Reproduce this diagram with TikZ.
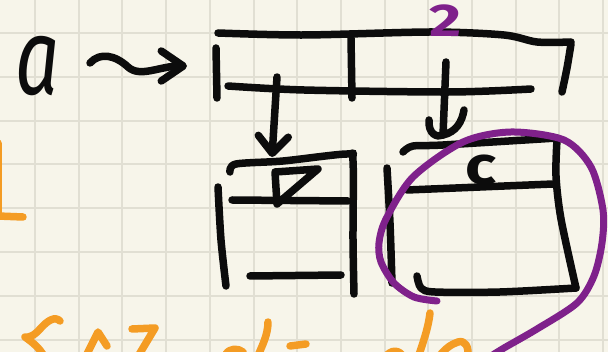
\documentclass[tikz,border=0pt]{standalone}
\usepackage{fontspec}
\usetikzlibrary{arrows.meta}
\newfontfamily\handfont{Fira Sans}
\definecolor{paper}{HTML}{F7F5EA}
\definecolor{gridgray}{HTML}{E1DFD3}
\definecolor{inkblack}{HTML}{0C0C0C}
\definecolor{markpurple}{HTML}{7F218B}
\definecolor{markorange}{HTML}{F49C24}

\begin{document}
\begin{tikzpicture}[x=1pt,y=-1pt,
    gridline/.style={draw=gridgray,line width=2pt},
    ink/.style={draw=inkblack,line width=7.5pt,line cap=round,line join=round},
    hilite/.style={draw=markpurple,line width=7pt,line cap=round},
    scrawl/.style={draw=markorange,line width=7.5pt,line cap=round,line join=round},
    barb/.style={-{Straight Barb[length=#1,width=30pt,round]}}]
    % paper and squares
    \useasboundingbox (0,0) rectangle (608,352);
    \clip (0,0) rectangle (608,352);
    \fill[paper] (0,0) rectangle (608,352);
    \foreach \i in {-1,...,13}
        \draw[gridline] ({35+43.7*\i},0) -- ({35+43.7*\i},352);
    \foreach \j in {-1,...,7}
        \draw[gridline] (0,{33+43.8*\j}) -- (608,{33+43.8*\j});

    % the variable and its pointer
    \node[font=\handfont\itshape\fontsize{108}{108}\selectfont,text=inkblack,
          xscale=0.72,inner sep=0] (aval) at (38,66) {a};
    \coordinate (wavein) at (90,63);
    \coordinate (waveout) at (187,66);
    \draw[ink,barb=22pt] (wavein) .. controls (100,52) and (115,55) .. (128,67)
        .. controls (140,78) and (160,66) .. (waveout);

    % array of two slots
    \draw[ink] plot[smooth] coordinates {(218,33) (304,35) (431,32) (504,35) (537,42) (571,42)};
    \draw[ink] plot[smooth] coordinates {(571,44) (567,68) (562,92)};
    \draw[ink] (216,48) -- (217,98);
    \draw[ink] plot[smooth] coordinates {(228,86) (304,90) (450,92) (531,89)};
    \draw[ink] (351,38) -- (352,98);
    \node[font=\handfont\bfseries\fontsize{46}{46}\selectfont,text=markpurple,
          xscale=1.35,inner sep=0] (size) at (446,21) {2};

    % first cell
    \draw[ink] plot[smooth] coordinates {(230,172) (236,164) (283,161) (347,154) (353,161) (353,240) (354,294)};
    \draw[ink] plot[smooth] coordinates {(218,187) (221,240) (226,286)};
    \draw[ink] (232,200) -- (348,201);
    \draw[ink] (250,276) -- (341,275);
    \draw[ink] (275,172) -- (318,169) -- (277,204) -- cycle;

    % second cell
    \draw[ink] plot[smooth] coordinates {(403,152) (413,146) (443,145) (557,138)};
    \draw[ink] plot[smooth] coordinates {(557,140) (556,176) (561,219) (576,288)};
    \draw[ink] plot[smooth] coordinates {(387,168) (390,223) (392,283)};
    \draw[ink] (407,190) -- (553,184);
    \draw[ink] plot[smooth] coordinates {(417,276) (421,288) (435,292) (500,292) (576,288)};
    \node[font=\handfont\bfseries\fontsize{54}{54}\selectfont,text=inkblack,
          xscale=1.2,inner sep=0] (cval) at (481,170) {c};

    % pointers down into the cells
    \coordinate (ptrA) at (277,77);
    \coordinate (tipA) at (272,157);
    \coordinate (ptrB) at (446,62);
    \coordinate (tipB) at (443,135);
    \draw[ink,barb=17pt] (ptrA) -- (tipA);
    \draw[ink] (ptrB) -- (tipB);
    \draw[ink] (429,120) .. controls (428,134) and (437,138) .. (tipB)
        .. controls (456,132) and (462,122) .. (464,110);

    % ring round the second cell
    \draw[hilite] plot[smooth] coordinates {(437,301) (414,297) (394,283) (381,262) (379,243)
        (386,219) (413,177) (463,142) (511,132) (564,140) (591,167) (603,210) (602,243)
        (594,276) (577,303) (537,329) (504,348) (488,358)};

    % orange notes along the edges
    \draw[scrawl] (-2,143) -- (-2,216) -- (23,217);
    \draw[scrawl] (60,321) .. controls (55,316) and (48,320) .. (40,329)
        .. controls (34,336) and (28,338) .. (25,337) .. controls (32,342) and (40,348) .. (45,358);
    \draw[scrawl] (85,358) -- (98,332) -- (107,346);
    \draw[scrawl] (132,329) -- (155,328) -- (137,358);
    \draw[scrawl] (226,354) .. controls (230,348) and (238,348) .. (243,352);
    \draw[scrawl] (268,322) .. controls (268,335) and (262,346) .. (257,358);
    \draw[scrawl] (290,346) -- (306,344);
    \draw[scrawl] (385,358) .. controls (390,349) and (400,349) .. (404,358);
    \draw[scrawl] (430,313) .. controls (428,330) and (422,345) .. (418,358);
    \draw[scrawl] (438,358) .. controls (445,348) and (452,344) .. (458,342)
        .. controls (465,340) and (469,346) .. (468,358);
\end{tikzpicture}
\end{document}
